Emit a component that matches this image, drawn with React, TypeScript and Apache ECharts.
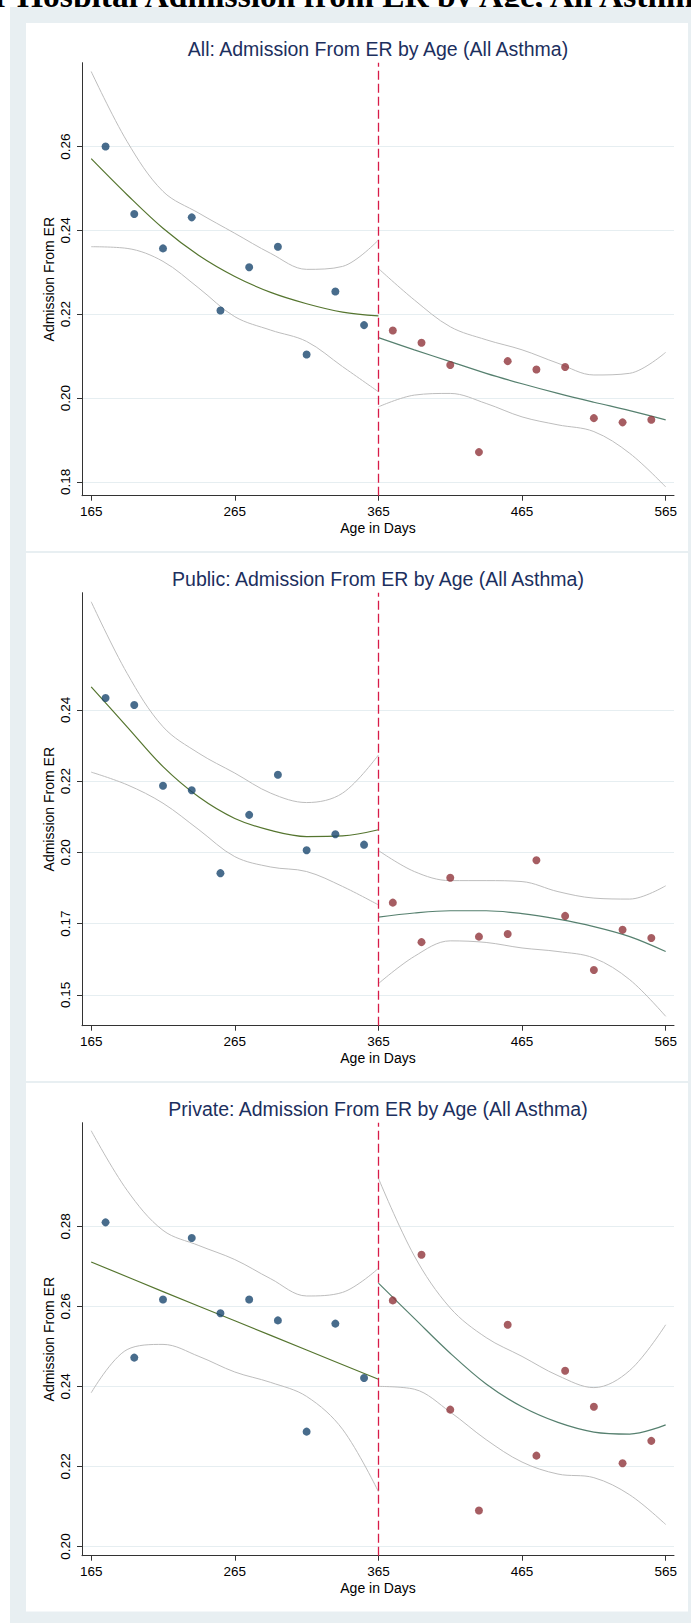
import React, { useEffect, useRef } from "react";
import * as echarts from "echarts";

// ---------- data ----------
const X_TICKS = [165, 265, 365, 465, 565];
const CUTOFF = 365;

const AGE_LEFT = [175, 195, 215, 235, 255, 275, 295, 315, 335, 355];
const AGE_RIGHT = [375, 395, 415, 435, 455, 475, 495, 515, 535, 555];
const FIT_AGE_LEFT = [165, 190, 215, 240, 265, 290, 315, 340, 365];
const FIT_AGE_RIGHT = [365, 390, 415, 440, 465, 490, 515, 540, 565];
const FIT_AGE_LEFT_LIN = [165, 215, 265, 315, 365];

// Panel 1: All
const ALL_TICKS = [0.18, 0.2, 0.22, 0.24, 0.26];
const ALL_LEFT = [0.26, 0.2439, 0.2357, 0.2431, 0.2209, 0.2312, 0.2361, 0.2104, 0.2254, 0.2174];
const ALL_RIGHT = [0.2161, 0.2132, 0.2079, 0.1871, 0.2088, 0.2068, 0.2074, 0.1952, 0.1942, 0.1948];
const ALL_FIT_L = [0.2571, 0.2485, 0.2405, 0.234, 0.229, 0.2252, 0.2225, 0.2205, 0.2196];
const ALL_UP_L = [0.2779, 0.2612, 0.2493, 0.2441, 0.2393, 0.2345, 0.2307, 0.2314, 0.2377];
const ALL_LO_L = [0.2361, 0.2357, 0.2326, 0.2262, 0.2194, 0.2162, 0.2135, 0.2075, 0.2015];
const ALL_FIT_R = [0.2144, 0.2115, 0.2087, 0.2059, 0.2034, 0.2011, 0.199, 0.197, 0.1948];
const ALL_UP_R = [0.2309, 0.2234, 0.217, 0.2139, 0.2115, 0.2083, 0.2055, 0.2059, 0.2109];
const ALL_LO_R = [0.1979, 0.2007, 0.2011, 0.1987, 0.1955, 0.1936, 0.192, 0.1868, 0.1788];

// Panel 2: Public
const PUB_TICKS = [0.152, 0.174, 0.196, 0.218, 0.24];
const PUB_LEFT = [0.2437, 0.2415, 0.2166, 0.2152, 0.1896, 0.2076, 0.22, 0.1967, 0.2016, 0.1984];
const PUB_RIGHT = [0.1805, 0.1683, 0.1882, 0.17, 0.1708, 0.1936, 0.1764, 0.1597, 0.1721, 0.1696];
const PUB_FIT_L = [0.2471, 0.2348, 0.2225, 0.2131, 0.2065, 0.2028, 0.2009, 0.2011, 0.203];
const PUB_UP_L = [0.2734, 0.2513, 0.2348, 0.2266, 0.2205, 0.2143, 0.2114, 0.2143, 0.2261];
const PUB_LO_L = [0.2208, 0.2169, 0.2112, 0.203, 0.1947, 0.1915, 0.1901, 0.1855, 0.1798];
const PUB_FIT_R = [0.176, 0.1773, 0.178, 0.178, 0.1771, 0.1754, 0.1731, 0.17, 0.1654];
const PUB_UP_R = [0.1966, 0.1901, 0.1873, 0.1873, 0.187, 0.1839, 0.1819, 0.1816, 0.1857];
const PUB_LO_R = [0.1555, 0.1639, 0.1687, 0.1682, 0.1665, 0.1654, 0.1634, 0.1567, 0.1454];

// Panel 3: Private
const PRI_TICKS = [0.2, 0.22, 0.24, 0.26, 0.28];
const PRI_LEFT = [0.281, 0.2472, 0.2617, 0.2771, 0.2583, 0.2617, 0.2565, 0.2287, 0.2557, 0.2421];
const PRI_RIGHT = [0.2615, 0.2729, 0.2342, 0.209, 0.2554, 0.2227, 0.2439, 0.2349, 0.2208, 0.2264];
const PRI_FIT_L = [0.2711, 0.2637, 0.2564, 0.2491, 0.2418];
const PRI_UP_L = [0.3039, 0.289, 0.279, 0.2752, 0.2717, 0.2669, 0.2626, 0.2635, 0.2695];
const PRI_LO_L = [0.2384, 0.2492, 0.2505, 0.2475, 0.2436, 0.241, 0.2375, 0.2293, 0.2137];
const PRI_FIT_R = [0.2658, 0.257, 0.2483, 0.2406, 0.2349, 0.231, 0.2286, 0.2281, 0.2304];
const PRI_UP_R = [0.292, 0.2726, 0.2596, 0.2522, 0.2475, 0.2427, 0.2397, 0.244, 0.2554];
const PRI_LO_R = [0.24, 0.2393, 0.2336, 0.2267, 0.2211, 0.2181, 0.2172, 0.2129, 0.2055];

const PANELS = [
  {
    title: "All: Admission From ER by Age (All Asthma)",
    yMin: 0.1767, yMax: 0.28, ticks: ALL_TICKS,
    left: ALL_LEFT, right: ALL_RIGHT,
    fitAgeL: FIT_AGE_LEFT, fitL: ALL_FIT_L, upL: ALL_UP_L, loL: ALL_LO_L,
    fitR: ALL_FIT_R, upR: ALL_UP_R, loR: ALL_LO_R,
  },
  {
    title: "Public: Admission From ER by Age (All Asthma)",
    yMin: 0.1425, yMax: 0.2762, ticks: PUB_TICKS,
    left: PUB_LEFT, right: PUB_RIGHT,
    fitAgeL: FIT_AGE_LEFT, fitL: PUB_FIT_L, upL: PUB_UP_L, loL: PUB_LO_L,
    fitR: PUB_FIT_R, upR: PUB_UP_R, loR: PUB_LO_R,
  },
  {
    title: "Private: Admission From ER by Age (All Asthma)",
    yMin: 0.1977, yMax: 0.3059, ticks: PRI_TICKS,
    left: PRI_LEFT, right: PRI_RIGHT,
    fitAgeL: FIT_AGE_LEFT_LIN, fitL: PRI_FIT_L, upL: PRI_UP_L, loL: PRI_LO_L,
    fitR: PRI_FIT_R, upR: PRI_UP_R, loR: PRI_LO_R,
  },
];

// ---------- styles ----------
const FONT = "'Liberation Sans', Arial, Helvetica, sans-serif";
const W = 691;
const H = 1623;
const PANEL_TOPS = [23, 553, 1083];
const PANEL_H = 528;
const GRID_LEFT = 82;
const GRID_W = 592;
const GRID_OFF = 39.7;
const GRID_H = 433;
const BG = "#e8eff2";
const NAVY = "#1a476f";
const MAROON = "#90353b";
const GREEN = "#55752f";
const TEAL = "#56806f";
const CI = "#bdbdbd";
const AXIS = "#333333";
const GRIDLINE = "#e6eef1";
const CUT_RED = "#d81b48";

const zip = (xs: number[], ys: number[]) => xs.map((x, i) => [x, ys[i]]);

export default function App() {
  const ref = useRef<HTMLDivElement>(null);

  useEffect(() => {
    document.body.style.margin = "0";
    const chart = echarts.init(ref.current!, null, { renderer: "svg" });

    const grids: any[] = [];
    const xAxes: any[] = [];
    const yAxes: any[] = [];
    const series: any[] = [];
    const graphics: any[] = [];

    graphics.push({
      type: "text",
      x: -33.5,
      y: 12,
      z: -3,
      style: {
        text: "for Hospital Admission from ER by Age, All Asthma",
        font: "bold 33.5px 'Liberation Serif', 'Times New Roman', serif",
        fill: "#000",
        textAlign: "left",
        textVerticalAlign: "bottom",
      },
    });
    graphics.push({
      type: "rect",
      z: -2,
      shape: { x: 10, y: 7, width: W, height: H },
      style: { fill: BG },
    });

    PANELS.forEach((p, i) => {
      const top = PANEL_TOPS[i];
      graphics.push({
        type: "rect",
        z: -1,
        shape: { x: 26, y: top, width: 662, height: PANEL_H + (i === 2 ? 0.5 : 0) },
        style: { fill: "#ffffff" },
      });
      graphics.push({
        type: "text",
        x: GRID_LEFT + GRID_W / 2,
        y: top + 25.5,
        z: 10,
        style: {
          text: p.title,
          font: `19.5px ${FONT}`,
          fill: "#1c2f5e",
          textAlign: "center",
          textVerticalAlign: "middle",
        },
      });

      grids.push({ left: GRID_LEFT, width: GRID_W, top: top + GRID_OFF, height: GRID_H });

      xAxes.push({
        gridIndex: i,
        type: "value",
        min: 158.6,
        max: 570.8,
        name: "Age in Days",
        nameLocation: "middle",
        nameGap: 25,
        nameMoveOverlap: false,
        nameTextStyle: { fontSize: 14, color: "#000", fontFamily: FONT },
        axisLine: { show: true, onZero: false, lineStyle: { color: AXIS, width: 1 } },
        axisTick: { show: true, customValues: X_TICKS, length: 5, lineStyle: { color: AXIS } },
        axisLabel: { customValues: X_TICKS, fontSize: 13.5, color: "#000", margin: 9, fontFamily: FONT },
        splitLine: { show: false },
      });

      yAxes.push({
        gridIndex: i,
        type: "value",
        min: p.yMin,
        max: p.yMax,
        name: "Admission From ER",
        nameLocation: "middle",
        nameRotate: 90,
        nameGap: 26,
        nameMoveOverlap: false,
        nameTextStyle: { fontSize: 14, color: "#000", fontFamily: FONT },
        axisLine: { show: true, onZero: false, lineStyle: { color: AXIS, width: 1 } },
        axisTick: { show: true, customValues: p.ticks, length: 5, lineStyle: { color: AXIS } },
        axisLabel: {
          customValues: p.ticks,
          rotate: 90,
          margin: 10,
          fontSize: 13.5,
          color: "#000",
          fontFamily: FONT,
          formatter: (v: number) => v.toFixed(2),
        },
        splitLine: { show: true, lineStyle: { color: GRIDLINE, width: 1 } },
      });

      const line = (name: string, xs: number[], ys: number[], color: string, width: number, extra: any = {}) => ({
        name,
        type: "line",
        xAxisIndex: i,
        yAxisIndex: i,
        data: zip(xs, ys),
        showSymbol: false,
        symbol: "none",
        smooth: 0.35,
        lineStyle: { color, width },
        z: 2,
        ...extra,
      });

      series.push(line(`ci-up-l-${i}`, FIT_AGE_LEFT, p.upL, CI, 1));
      series.push(line(`ci-lo-l-${i}`, FIT_AGE_LEFT, p.loL, CI, 1));
      series.push(line(`ci-up-r-${i}`, FIT_AGE_RIGHT, p.upR, CI, 1));
      series.push(line(`ci-lo-r-${i}`, FIT_AGE_RIGHT, p.loR, CI, 1));
      series.push(line(`fit-l-${i}`, p.fitAgeL, p.fitL, GREEN, 1.2));
      series.push(
        line(`fit-r-${i}`, FIT_AGE_RIGHT, p.fitR, TEAL, 1.2, {
          markLine: {
            silent: true,
            symbol: ["none", "none"],
            label: { show: false },
            lineStyle: { color: CUT_RED, type: [9, 4], width: 1.3 },
            data: [{ xAxis: CUTOFF }],
          },
        })
      );
      series.push({
        name: `left-${i}`,
        type: "scatter",
        xAxisIndex: i,
        yAxisIndex: i,
        data: zip(AGE_LEFT, p.left),
        symbolSize: 8,
        itemStyle: { color: NAVY },
        z: 5,
      });
      series.push({
        name: `right-${i}`,
        type: "scatter",
        xAxisIndex: i,
        yAxisIndex: i,
        data: zip(AGE_RIGHT, p.right),
        symbolSize: 8,
        itemStyle: { color: MAROON },
        z: 5,
      });
    });

    chart.setOption({
      animation: false,
      backgroundColor: "#ffffff",
      textStyle: { fontFamily: FONT },
      graphic: { elements: graphics },
      grid: grids,
      xAxis: xAxes,
      yAxis: yAxes,
      series,
    });

    return () => chart.dispose();
  }, []);

  return <div ref={ref} style={{ width: W, height: H }} />;
}
